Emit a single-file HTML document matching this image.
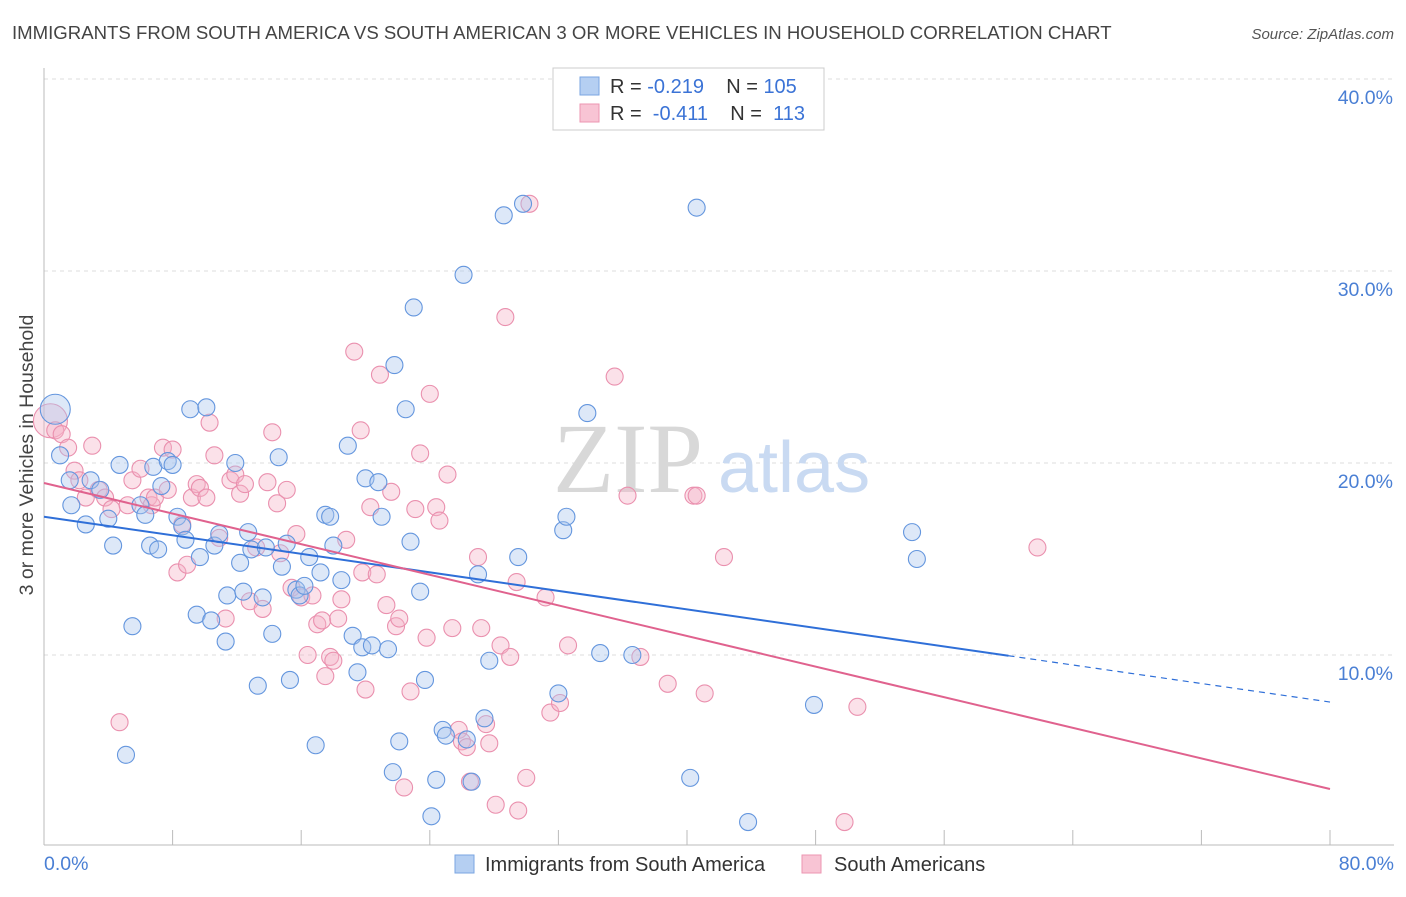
<!DOCTYPE html>
<html><head><meta charset="utf-8"><style>
body{margin:0;background:#fff;font-family:"Liberation Sans",sans-serif;}
svg text{font-family:"Liberation Sans",sans-serif;}
</style></head><body>
<svg id="chart" width="1406" height="892">
<text x="12" y="39" font-size="18.6" fill="#444">IMMIGRANTS FROM SOUTH AMERICA VS SOUTH AMERICAN 3 OR MORE VEHICLES IN HOUSEHOLD CORRELATION CHART</text>
<text x="1394" y="39" font-size="15" fill="#555" font-style="italic" text-anchor="end">Source: ZipAtlas.com</text>
<g id="grid"></g>
<g>
<text x="553" y="492" font-size="100" fill="#d8d8d8" font-family="Liberation Serif" style="font-family:'Liberation Serif',serif">ZIP</text>
<text x="718" y="492" font-size="72" fill="#c9daf2">atlas</text></g>
<g id="pts"></g>
<g id="lines"></g>
<text transform="translate(33,455) rotate(-90)" font-size="19.5" fill="#444" text-anchor="middle">3 or more Vehicles in Household</text>
<g>
<rect x="553" y="68" width="271" height="62" fill="#fff" stroke="#ccc"/>
<rect x="580" y="77" width="19" height="18" fill="#b5cff2" stroke="#7aa5e2"/>
<rect x="580" y="104" width="19" height="18" fill="#f8c4d4" stroke="#ec96b2"/>
<text x="610" y="93" font-size="20" fill="#333" xml:space="preserve">R = <tspan fill="#3b73d6">-0.219</tspan>    N = <tspan fill="#3b73d6">105</tspan></text>
<text x="610" y="120" font-size="20" fill="#333" xml:space="preserve">R =  <tspan fill="#3b73d6">-0.411</tspan>    N =  <tspan fill="#3b73d6">113</tspan></text>
</g>
<g>
<rect x="455" y="855" width="19" height="18" fill="#b5cff2" stroke="#7aa5e2"/>
<text x="485" y="871" font-size="20" fill="#333">Immigrants from South America</text>
<rect x="802" y="855" width="19" height="18" fill="#f8c4d4" stroke="#ec96b2"/>
<text x="834" y="871" font-size="20" fill="#333">South Americans</text>
</g>
</svg>
<script>
const yTicks=[10,20,30,40];
const yTickLabels=["10.0%","20.0%","30.0%","40.0%"];
const xTicks=[0,8,16,24,32,40,48,56,64,72,80];
const blueX=[0.7,1.0,1.6,1.7,2.6,2.9,3.5,4.0,4.3,4.7,5.5,5.1,6.0,6.3,6.6,6.8,7.1,7.3,7.7,8.0,8.3,8.6,8.8,9.1,9.5,9.7,10.1,10.4,10.6,10.9,11.3,11.4,11.9,12.2,12.4,12.7,12.9,13.3,13.6,13.8,14.2,14.6,14.8,15.1,15.3,15.7,15.9,16.2,16.5,16.9,17.2,17.5,17.8,18.0,18.5,18.9,19.2,19.5,19.8,20.0,20.4,20.8,21.0,21.4,21.7,21.8,22.1,22.5,22.8,23.0,23.4,23.7,24.1,24.4,24.8,25.0,26.1,26.3,26.6,27.0,27.4,27.7,28.6,29.5,29.8,32.0,32.3,32.5,33.8,34.6,36.6,40.2,40.6,43.8,47.9,54.0,54.3];
const blueY=[22.8,20.4,19.1,17.8,16.8,19.1,18.6,17.1,15.7,19.9,11.5,4.8,17.8,17.3,15.7,19.8,15.5,18.8,20.1,19.9,17.2,16.7,16.0,22.8,12.1,15.1,22.9,11.8,15.7,16.3,10.7,13.1,20.0,14.8,13.3,16.4,15.5,8.4,13.0,15.6,11.1,20.3,14.6,15.8,8.7,13.4,13.1,13.6,15.1,5.3,14.3,17.3,17.2,15.7,13.9,20.9,11.0,9.1,10.4,19.2,10.5,19.0,17.2,10.3,3.9,25.1,5.5,22.8,15.9,28.1,13.3,8.7,1.6,3.5,6.1,5.8,29.8,5.6,3.4,14.2,6.7,9.7,32.9,15.1,33.5,8.0,16.5,17.2,22.6,10.1,10.0,3.6,33.3,1.3,7.4,16.4,15.0];
const pinkX=[0.4,0.7,1.1,1.5,1.9,2.2,2.6,3.0,3.4,3.8,4.2,4.7,5.2,5.5,6.0,6.5,6.7,6.9,7.4,7.7,8.0,8.3,8.6,8.9,9.2,9.5,9.7,10.1,10.3,10.6,10.9,11.3,11.6,11.9,12.2,12.5,12.8,13.2,13.6,13.9,14.2,14.5,14.7,15.1,15.4,15.7,16.0,16.4,16.7,17.0,17.3,17.5,17.8,18.0,18.3,18.5,18.8,19.3,19.7,19.8,20.0,20.3,20.7,20.9,21.3,21.6,21.9,22.1,22.4,22.8,23.1,23.4,23.8,24.0,24.4,24.6,25.1,25.4,25.8,26.0,26.3,26.5,27.0,27.2,27.5,27.7,28.1,28.4,28.7,29.0,29.4,29.5,30.0,30.2,31.2,31.5,32.1,32.6,35.5,36.3,37.1,38.8,40.4,40.6,41.1,42.3,49.8,50.6,61.8];
const pinkY=[22.2,21.7,21.5,20.8,19.6,19.1,18.2,20.9,18.6,18.2,17.6,6.5,17.8,19.1,19.7,18.2,17.8,18.2,20.8,18.6,20.7,14.3,16.8,14.7,18.2,18.9,18.7,18.2,22.1,20.4,16.1,11.9,19.1,19.4,18.4,18.9,12.8,15.6,12.4,19.0,21.6,17.9,15.3,18.6,13.5,16.3,13.0,10.0,13.1,11.6,11.8,8.9,9.9,9.7,11.9,12.9,16.0,25.8,21.7,14.3,8.2,17.7,14.2,24.6,12.6,18.5,11.5,11.9,3.1,8.1,17.6,20.5,10.9,23.6,17.7,17.0,19.4,11.4,6.1,5.5,5.2,3.4,15.1,11.4,6.4,5.4,2.2,10.5,27.6,9.9,13.8,1.9,3.6,33.5,13.0,7.0,7.5,10.5,24.5,18.3,9.9,8.5,18.3,18.3,8.0,15.1,1.3,7.3,15.6];
const blueTrend=[17.2,7.55];
const pinkTrend=[18.96,3.02];
const blueSolidEnd=60;
const X0=44,X1=1330,Y0=847,PXY=19.2;
const sx=v=>X0+(X1-X0)*v/80;
const sy=v=>Y0-v*PXY;
const NS="http://www.w3.org/2000/svg";
function mk(tag,attrs,parent){const e=document.createElementNS(NS,tag);for(const k in attrs)e.setAttribute(k,attrs[k]);parent.appendChild(e);return e;}
const grid=document.getElementById('grid');
yTicks.forEach((t,i)=>{
 const l=mk('line',{x1:X0,x2:1394,y1:sy(t),y2:sy(t),stroke:'#ddd','stroke-dasharray':'4,4'},grid);
 
 
 const tx=mk('text',{x:1393,y:sy(t)+25,'font-size':19.5,fill:'#4a7fd4','text-anchor':'end'},grid);
 tx.textContent=yTickLabels[i];
 
 
});
const ax=mk('line',{x1:X0,x2:1394,y1:845,y2:845,stroke:'#bbb'},grid);


const ay=mk('line',{x1:X0,x2:X0,y1:68,y2:845,stroke:'#bbb'},grid);


xTicks.forEach(t=>{
 const l=mk('line',{x1:sx(t),x2:sx(t),y1:830,y2:845,stroke:'#bbb'},grid);
 
 
});
let t0=mk('text',{x:44,y:870,'font-size':19.5,fill:'#4a7fd4'},grid);t0.textContent='0.0%';


let t1=mk('text',{x:1394,y:870,'font-size':19.5,fill:'#4a7fd4','text-anchor':'end'},grid);t1.textContent='80.0%';


const pts=document.getElementById('pts');
function dots(xs,ys,fill,stroke,name){
 xs.forEach((x,i)=>{
  const r=i===0?(name==='blue-point'?15:17):8.5;
  const c=mk('circle',{cx:sx(x),cy:sy(ys[i]),r:r,fill:fill,'fill-opacity':0.4,stroke:stroke,'stroke-width':1.1},pts);
  
  
 });
}
dots(pinkX,pinkY,'#f5b3c8','#ea90ae','pink-point');
dots(blueX,blueY,'#a9c6ee','#6496de','blue-point');
const lines=document.getElementById('lines');
const by=x=>blueTrend[0]+(blueTrend[1]-blueTrend[0])*x/80;
const py=x=>pinkTrend[0]+(pinkTrend[1]-pinkTrend[0])*x/80;
let b1=mk('line',{x1:sx(0),y1:sy(by(0)),x2:sx(blueSolidEnd),y2:sy(by(blueSolidEnd)),stroke:'#2f6fd8','stroke-width':2},lines);


let b2=mk('line',{x1:sx(blueSolidEnd),y1:sy(by(blueSolidEnd)),x2:sx(80),y2:sy(by(80)),stroke:'#2f6fd8','stroke-width':1.2,'stroke-dasharray':'6,5'},lines);


let p1=mk('line',{x1:sx(0),y1:sy(py(0)),x2:sx(80),y2:sy(py(80)),stroke:'#e0628e','stroke-width':2},lines);


</script>
</body></html>
